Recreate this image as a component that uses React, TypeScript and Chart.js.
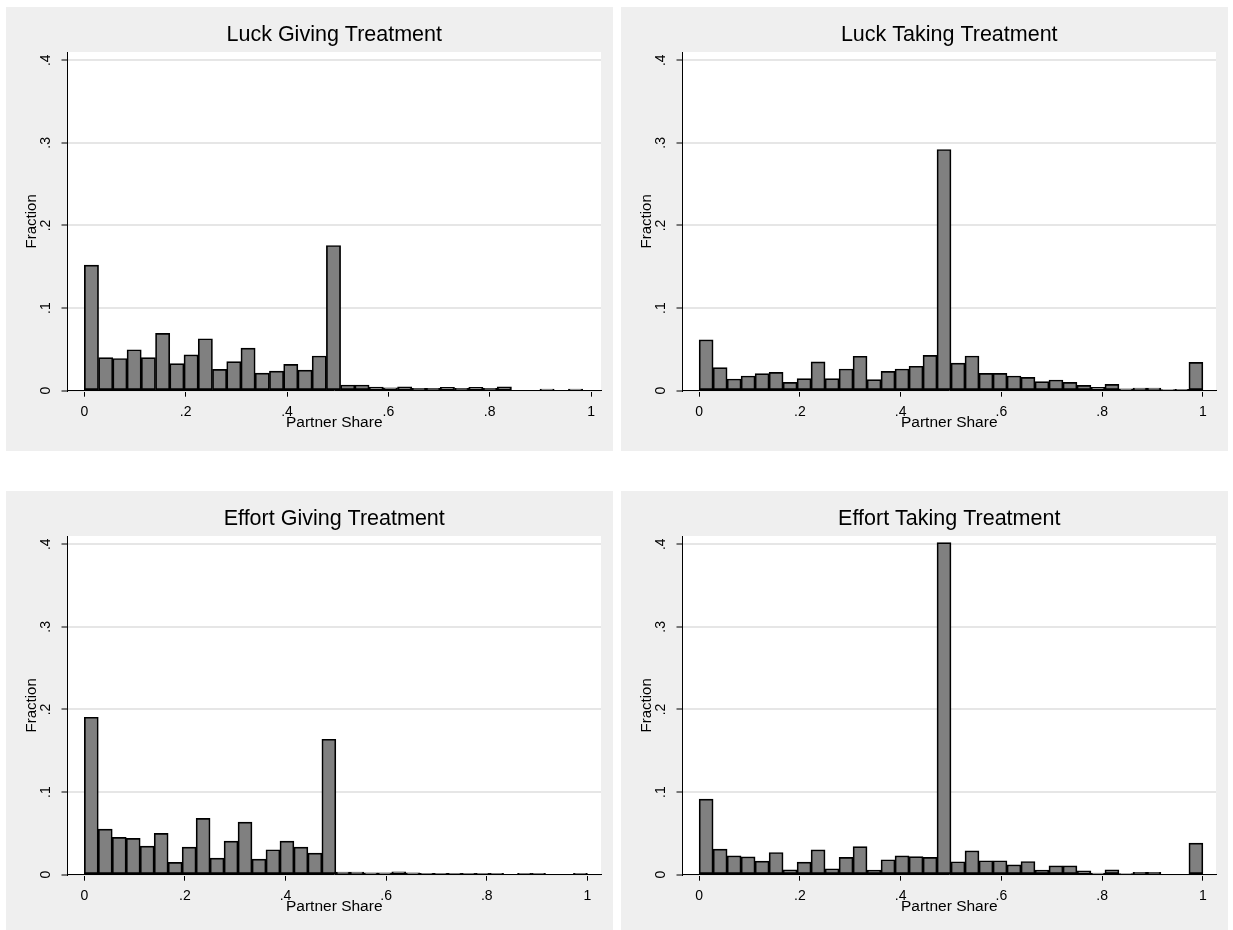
import React, { useEffect, useRef } from 'react';
import { Chart, registerables } from 'chart.js';

Chart.register(...registerables);
Chart.defaults.font.family = "'Liberation Sans', Arial, sans-serif";
Chart.defaults.color = '#000';

// ---- data (fraction per bin) ----
const titles = ['Luck Giving Treatment', 'Luck Taking Treatment', 'Effort Giving Treatment', 'Effort Taking Treatment'];
const binWidths = [0.0281, 1 / 36, 1 / 36, 1 / 36];

const luckGiving = [
  0.152, 0.040, 0.039, 0.0496, 0.040, 0.0694, 0.0327, 0.0435, 0.0629, 0.0259, 0.0351, 0.0516,
  0.0214, 0.0238, 0.0319, 0.025, 0.042, 0.1758, 0.0069, 0.0069, 0.0044, 0.0036, 0.0048, 0.0028,
  0.0028, 0.004, 0.0028, 0.004, 0.0028, 0.0048, 0, 0, 0.002, 0, 0.002,
];
const luckTaking = [
  0.0616, 0.028, 0.0142, 0.0178, 0.0207, 0.0223, 0.0101, 0.0146, 0.0348, 0.0146, 0.0263, 0.0417,
  0.0134, 0.0235, 0.0263, 0.0296, 0.0429, 0.292, 0.0334, 0.042, 0.021, 0.021, 0.0178, 0.0162,
  0.0109, 0.013, 0.0101, 0.0065, 0.004, 0.0077, 0.0024, 0.0032, 0.0032, 0.0008, 0.0016, 0.0344,
];
const effortGiving = [
  0.1906, 0.0552, 0.0451, 0.0439, 0.0346, 0.05, 0.0149, 0.0334, 0.0681, 0.0201, 0.0407, 0.0636,
  0.0189, 0.0302, 0.0407, 0.0334, 0.0261, 0.164, 0.0032, 0.0032, 0.0024, 0.0024, 0.0036, 0.0024,
  0.0016, 0.0016, 0.0016, 0.0016, 0.0016, 0.0016, 0, 0.0016, 0.0016, 0, 0, 0.0016,
];
const effortTaking = [
  0.0916, 0.031, 0.0229, 0.0217, 0.0165, 0.0269, 0.006, 0.0153, 0.0301, 0.0072, 0.0209, 0.0341,
  0.0056, 0.0181, 0.0229, 0.022, 0.0209, 0.402, 0.0157, 0.0289, 0.0169, 0.0169, 0.012, 0.016,
  0.0056, 0.0108, 0.0108, 0.0048, 0.002, 0.006, 0.0008, 0.0028, 0.0028, 0, 0, 0.0382,
];
const seriesList = [luckGiving, luckTaking, effortGiving, effortTaking];
const xMins = [-0.0332, -0.033, -0.0334, -0.033];
const xMaxs = [1.0197, 1.026, 1.027, 1.026];
const yMax = 0.41;
const xTitle = 'Partner Share';
const yTitle = 'Fraction';

const fmt = (v: number) => {
  const r = Math.round(v * 10) / 10;
  if (r === 0) return '0';
  if (r === 1) return '1';
  return String(r).replace(/^0\./, '.');
};

const whiteArea = {
  id: 'whiteArea',
  beforeDraw(chart: any) {
    const { ctx, chartArea } = chart;
    ctx.save();
    ctx.fillStyle = '#ffffff';
    ctx.fillRect(chartArea.left, chartArea.top, chartArea.right - chartArea.left, chartArea.bottom - chartArea.top);
    ctx.restore();
  },
};

const PANEL_W = 607;
const PANEL_H = 444;
const panelPos = [
  { left: 6, top: 7 },
  { left: 621, top: 7 },
  { left: 6, top: 491 },
  { left: 621, top: 491 },
];

function Panel({ idx }: { idx: number }) {
  const ref = useRef<HTMLCanvasElement>(null);
  useEffect(() => {
    const w = binWidths[idx];
    const data = seriesList[idx].map((v, i) => ({ x: (i + 0.5) * w, y: v }));
    const chart = new Chart(ref.current as HTMLCanvasElement, {
      type: 'bar',
      data: {
        datasets: [
          {
            data,
            backgroundColor: '#808080',
            borderColor: '#000000',
            borderWidth: 1.7,
            borderSkipped: false,
            categoryPercentage: 1,
            barPercentage: 1,
          } as any,
        ],
      },
      options: {
        animation: false,
        responsive: false,
        maintainAspectRatio: false,
        layout: { padding: { left: 0, right: 12, top: 0, bottom: 0 } },
        plugins: {
          legend: { display: false },
          tooltip: { enabled: false },
          title: {
            display: true,
            text: titles[idx],
            fullSize: false,
            color: '#000',
            font: { size: 21.5, weight: 'normal' },
            padding: { top: 15.6, bottom: 3.6 },
          },
        },
        scales: {
          x: {
            type: 'linear',
            min: xMins[idx],
            max: xMaxs[idx],
            offset: false,
            afterFit: (s: any) => {
              s.height = 60.3;
            },
            ticks: {
              stepSize: 0.2,
              includeBounds: false,
              padding: 6.6,
              color: '#000',
              font: { size: 14 },
              maxRotation: 0,
              minRotation: 0,
              autoSkip: false,
              callback: (v: any) => fmt(Number(v)),
            },
            grid: { offset: false, drawOnChartArea: false, tickLength: 6, tickColor: '#000', tickWidth: 1 },
            border: { color: '#000', width: 1 },
            title: { display: true, text: xTitle, color: '#000', font: { size: 15.5 }, padding: { top: 0, bottom: 19.2 } },
          },
          y: {
            type: 'linear',
            min: 0,
            max: yMax,
            afterFit: (s: any) => {
              s.width = 61.5;
            },
            ticks: {
              stepSize: 0.1,
              includeBounds: false,
              minRotation: 90,
              maxRotation: 90,
              crossAlign: 'center',
              padding: 9.6,
              color: '#000',
              font: { size: 14 },
              callback: (v: any) => fmt(Number(v)),
            },
            grid: { color: '#e6e6e6', lineWidth: 2, tickColor: '#000', tickWidth: 1, tickLength: 6 },
            border: { color: '#000', width: 1 },
            title: { display: true, text: yTitle, color: '#000', font: { size: 15 }, padding: { top: 17, bottom: 0 } },
          },
        },
      } as any,
      plugins: [whiteArea],
    });
    return () => chart.destroy();
  }, [idx]);
  const p = panelPos[idx];
  return (
    <div style={{ position: 'absolute', left: p.left, top: p.top, width: PANEL_W, height: PANEL_H }}>
      <canvas ref={ref} width={PANEL_W} height={PANEL_H} style={{ display: 'block', width: PANEL_W, height: PANEL_H, background: '#efefef' }} />
    </div>
  );
}

export default function App() {
  return (
    <div style={{ position: 'fixed', left: 0, top: 0, width: 1233, height: 930, overflow: 'hidden', background: '#ffffff' }}>
      {[0, 1, 2, 3].map((i) => (
        <Panel key={i} idx={i} />
      ))}
    </div>
  );
}
